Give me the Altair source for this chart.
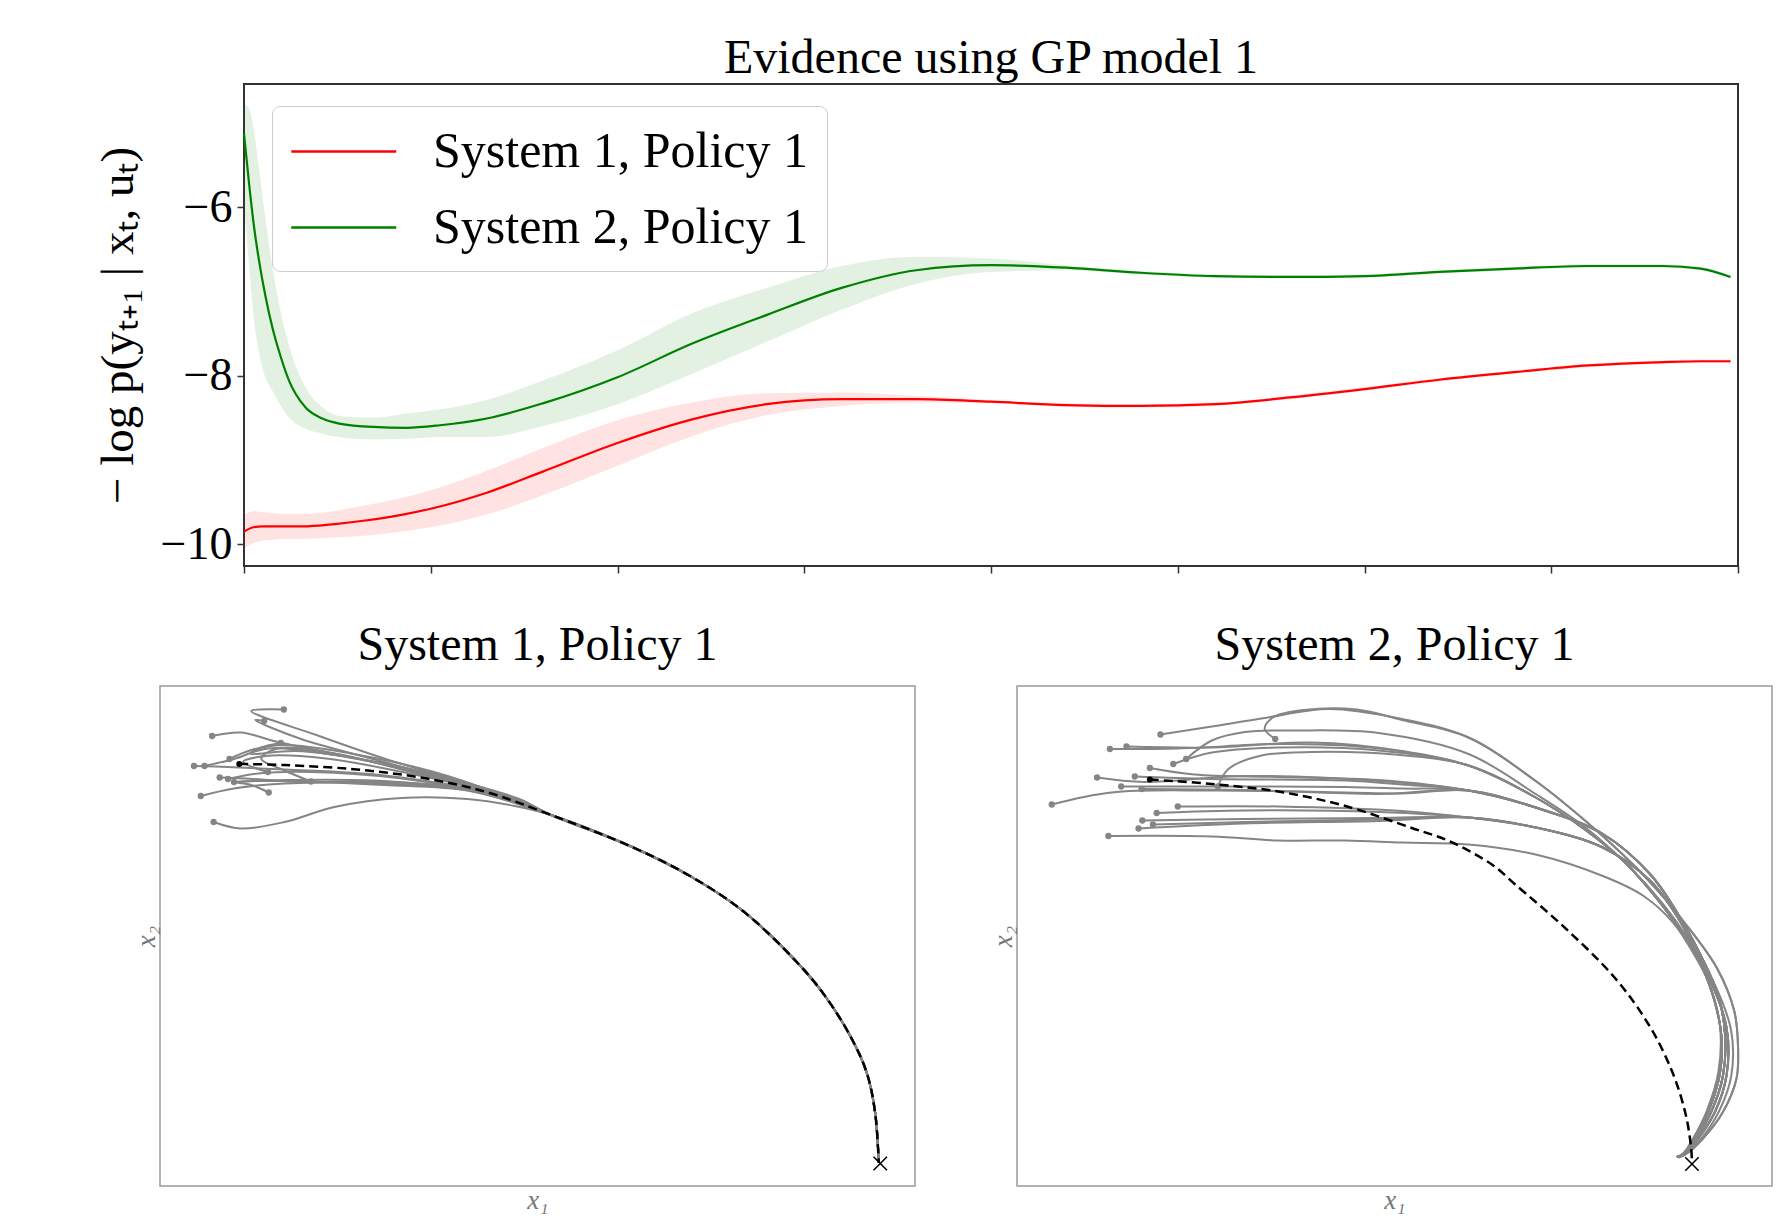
import altair as alt
import pandas as pd

# ---------------- top panel data ----------------
SERIES = ["System 1, Policy 1", "System 2, Policy 1"]
RED_T = [0, 0.05, 0.1, 0.15, 0.2, 0.3, 0.4, 0.5, 0.65, 0.85, 1.0, 1.3, 1.6, 2.0, 2.4,
         2.8, 3.2, 3.6, 4.0, 4.4, 4.8, 5.2, 5.6, 6.0, 6.4, 6.8, 7.2, 7.6, 7.8, 7.96]
RED_MEAN = [-9.85, -9.80, -9.79, -9.79, -9.79, -9.79, -9.78, -9.76, -9.72, -9.65,
            -9.58, -9.39, -9.14, -8.80, -8.52, -8.34, -8.28, -8.28, -8.31, -8.35,
            -8.36, -8.34, -8.26, -8.16, -8.05, -7.96, -7.88, -7.84, -7.83, -7.83]
RED_HALF = [0.20, 0.19, 0.17, 0.16, 0.15, 0.15, 0.15, 0.16, 0.18, 0.20,
            0.22, 0.26, 0.28, 0.27, 0.20, 0.13, 0.08, 0.04, 0.02, 0.02,
            0.02, 0.02, 0.02, 0.02, 0.02, 0.02, 0.02, 0.02, 0.02, 0.02]
GREEN_T = [0, 0.027, 0.054, 0.08, 0.116, 0.152, 0.197, 0.241, 0.33, 0.42, 0.51, 0.69,
           0.87, 1.05, 1.3, 1.6, 2.0, 2.4, 2.8, 3.2, 3.6, 4.0, 4.4, 4.8, 5.2, 5.6,
           6.0, 6.4, 6.8, 7.2, 7.6, 7.8, 7.96]
GREEN_MEAN = [-5.13, -5.72, -6.24, -6.63, -7.07, -7.43, -7.78, -8.06, -8.38, -8.51, -8.57,
              -8.61, -8.62, -8.59, -8.51, -8.33, -8.02, -7.62, -7.28, -6.96, -6.75, -6.69,
              -6.72, -6.78, -6.82, -6.83, -6.82, -6.77, -6.73, -6.70, -6.70, -6.73, -6.83]
GREEN_HI = [-4.78, -4.83, -5.10, -5.53, -6.16, -6.71, -7.25, -7.64, -8.14, -8.38, -8.48,
            -8.50, -8.45, -8.40, -8.29, -8.06, -7.70, -7.26, -6.96, -6.70, -6.59, -6.61,
            -6.69, -6.76, -6.80, -6.81, -6.80, -6.75, -6.71, -6.68, -6.68, -6.71, -6.81]
GREEN_LO = [-5.95, -6.70, -7.35, -7.72, -8.03, -8.18, -8.36, -8.50, -8.63, -8.69, -8.73,
            -8.76, -8.75, -8.73, -8.73, -8.60, -8.34, -7.98, -7.60, -7.22, -6.91, -6.77,
            -6.75, -6.80, -6.84, -6.85, -6.84, -6.79, -6.75, -6.72, -6.72, -6.75, -6.85]
X_TICKS = [0, 1, 2, 3, 4, 5, 6, 7, 8]
Y_TICKS = [-10, -8, -6]
Y_DOMAIN = [-10.26, -4.54]

# ---------------- bottom-left (System 1) data, % of frame ----------------
L_NOMINAL = [(10.5, 84.4), (16.5, 84.2), (25.3, 83.4), (34.1, 81.8), (43.0, 78.9),
             (51.8, 74.2), (62.4, 67.9), (70.2, 62.0), (77.3, 54.9), (84.4, 44.7),
             (87.9, 38.4), (91.5, 29.8), (93.6, 22.7), (94.7, 14.9), (95.2, 4.7)]
L_TAIL = [(51.8, 74.2), (62.4, 67.9), (70.2, 62.0), (77.3, 54.9), (84.4, 44.7),
          (87.9, 38.4), (91.5, 29.8), (93.6, 22.7), (94.7, 14.9), (95.2, 4.7)]
L_HEADS = [
    [(16.4, 95.3), (12.1, 95.0), (20.9, 90.1), (29.7, 85.5), (38.5, 81.5), (47.4, 77.5)],
    [(13.8, 93.0), (12.6, 93.2), (18.7, 89.4), (29.7, 84.8), (40.7, 80.2), (47.4, 77.4)],
    [(6.9, 90.0), (10.7, 90.7), (15.6, 88.8), (25.3, 85.8), (36.3, 81.8), (45.5, 78.0)],
    [(4.5, 84.0), (9.0, 83.8), (16.5, 83.3), (29.7, 82.1), (43.0, 78.8)],
    [(5.9, 84.0), (9.8, 85.4), (14.3, 87.5), (23.1, 86.2), (34.1, 82.8), (45.0, 78.3)],
    [(9.2, 85.4), (12.1, 87.2), (16.5, 88.2), (25.3, 86.5), (36.3, 82.8), (45.0, 78.4)],
    [(7.9, 81.7), (11.2, 81.5), (18.7, 80.8), (29.7, 80.8), (40.7, 79.5), (47.0, 76.8)],
    [(5.4, 78.0), (9.8, 79.5), (16.5, 80.5), (29.7, 80.5), (40.7, 79.2)],
    [(7.1, 72.8), (10.7, 71.5), (16.5, 72.8), (23.1, 75.8), (32.0, 77.6), (40.7, 77.4), (47.0, 76.0)],
    [(20.0, 80.9), (16.5, 83.1), (13.4, 85.5), (15.6, 87.5), (23.1, 86.5), (34.1, 82.5), (45.0, 78.2)],
    [(14.4, 78.7), (12.1, 80.2), (9.8, 80.8), (16.5, 81.0), (29.7, 80.2), (41.0, 79.0)],
    [(16.0, 88.6), (13.4, 87.7), (12.0, 86.5), (18.0, 87.0), (28.0, 85.0), (40.0, 80.8)],
    [(14.3, 82.8), (11.0, 84.8), (14.0, 86.0), (22.0, 85.5), (33.0, 82.5), (44.0, 78.6)],
    [(9.8, 80.8), (16.5, 81.2), (29.7, 81.0), (41.5, 79.0)],
    [(9.0, 81.4), (13.0, 82.5), (20.0, 82.8), (32.0, 81.5), (43.0, 78.5)],
]
L_END = (95.4, 4.5)

# ---------------- bottom-right (System 2) data, % of frame ----------------
R_NOMINAL = [(17.6, 81.3), (25.8, 80.4), (34.6, 78.9), (43.5, 76.0), (52.3, 71.6),
             (57.2, 69.0), (62.9, 64.3), (66.0, 60.3), (72.6, 51.6), (79.2, 41.6),
             (83.7, 32.2), (86.8, 22.8), (88.6, 14.1), (89.3, 7.4), (89.4, 4.7)]
R_TAIL_1 = [(59.8, 89.7), (68.7, 81.0), (75.3, 73.0), (81.6, 64.3), (85.5, 58.0), (88.3, 52.9),
            (92.7, 43.6), (95.0, 35.0), (95.5, 28.0), (95.3, 21.5), (93.5, 14.8), (90.8, 9.4),
            (88.6, 6.4), (87.6, 5.7)]
R_TAIL_2 = [(59.8, 86.4), (68.7, 78.4), (75.3, 71.7), (81.0, 64.0), (85.5, 56.5), (89.3, 48.5),
            (92.5, 40.0), (94.6, 31.0), (94.6, 22.0), (93.0, 15.0), (90.6, 9.4), (88.5, 6.3),
            (87.5, 5.8)]
R_TAIL_3 = [(59.8, 84.1), (68.7, 77.7), (75.3, 71.2), (80.8, 64.3), (85.0, 57.0), (88.8, 49.0),
            (92.0, 40.5), (94.0, 31.5), (94.0, 22.3), (92.5, 15.0), (90.2, 9.4), (88.4, 6.3),
            (87.5, 5.8)]
R_TAIL_4 = [(59.8, 79.1), (68.7, 75.7), (77.6, 70.4), (83.9, 62.3), (87.5, 54.5), (90.6, 46.0),
            (92.9, 38.0), (93.8, 30.0), (93.5, 22.0), (92.0, 15.0), (89.9, 9.4), (88.3, 6.3),
            (87.4, 5.8)]
R_TAIL_5 = [(59.8, 73.7), (68.7, 71.7), (77.6, 67.7), (83.9, 61.0), (87.6, 53.5), (90.3, 45.5),
            (92.3, 37.5), (93.3, 30.0), (93.1, 22.5), (91.6, 15.0), (89.7, 9.4), (88.2, 6.4),
            (87.4, 5.8)]
R_TAIL_6 = [(59.8, 68.3), (68.7, 66.3), (77.6, 62.0), (83.0, 58.0), (87.0, 52.5), (89.8, 46.0),
            (91.8, 40.0), (93.1, 32.2), (92.9, 22.8), (91.3, 14.8), (89.5, 9.4), (88.2, 6.4),
            (87.4, 5.8)]
R_HEADS = [
    ([(19.0, 90.3), (25.8, 91.9), (32.8, 93.6), (41.3, 95.4), (51.0, 93.4)], 1),
    ([(34.2, 89.4), (32.8, 91.5), (34.0, 93.8), (38.0, 95.2), (45.0, 95.3), (51.0, 93.2)], 1),
    ([(22.4, 85.4), (25.8, 89.1), (30.2, 90.8), (36.8, 91.1), (47.9, 90.6)], 2),
    ([(12.3, 87.4), (21.3, 87.5), (34.6, 88.4), (43.5, 88.1), (51.0, 86.9)], 3),
    ([(14.5, 87.9), (25.8, 87.7), (39.0, 88.7), (51.0, 87.0)], 3),
    ([(20.7, 84.4), (25.8, 86.7), (34.6, 87.7), (47.9, 87.1)], 3),
    ([(26.6, 79.9), (28.0, 83.4), (32.4, 86.1), (39.0, 86.8), (50.0, 86.3)], 3),
    ([(17.6, 83.6), (23.5, 82.3), (34.6, 81.8), (47.9, 81.2)], 4),
    ([(10.6, 81.7), (16.9, 80.8), (30.2, 82.0), (47.9, 81.0)], 4),
    ([(15.6, 81.9), (25.8, 81.4), (43.5, 81.1), (51.0, 80.3)], 4),
    ([(13.8, 79.9), (25.8, 79.9), (43.5, 79.8), (51.0, 79.5)], 4),
    ([(4.6, 76.3), (12.5, 78.7), (25.8, 79.1), (43.5, 78.7), (51.0, 78.5)], 4),
    ([(16.5, 79.4), (30.2, 79.2), (47.9, 78.4)], 4),
    ([(21.3, 75.9), (34.6, 75.9), (51.0, 75.0)], 5),
    ([(18.5, 74.6), (30.2, 75.1), (47.9, 74.8)], 5),
    ([(16.6, 73.1), (30.2, 73.4), (47.9, 73.6)], 5),
    ([(18.0, 72.3), (30.2, 72.8), (47.9, 73.3)], 5),
    ([(16.1, 71.5), (30.2, 72.5), (47.9, 73.0)], 5),
    ([(12.1, 70.0), (25.8, 69.9), (34.6, 69.1), (43.5, 69.1), (51.0, 68.7)], 6),
]
R_END = (89.4, 4.4)

FONT = "Liberation Serif"

# ---------------- top panel ----------------
rows = []
for t, m, h in zip(RED_T, RED_MEAN, RED_HALF):
    rows.append({"t": t, "mean": m, "lo": m - h, "hi": m + h, "series": SERIES[0]})
for t, m, lo, hi in zip(GREEN_T, GREEN_MEAN, GREEN_LO, GREEN_HI):
    rows.append({"t": t, "mean": m, "lo": lo, "hi": hi, "series": SERIES[1]})
evid = pd.DataFrame(rows)

cscale = alt.Scale(domain=SERIES, range=["#ff0000", "#008000"])
xs_top = alt.Scale(domain=[0, 8], nice=False, zero=False)
ys_top = alt.Scale(domain=Y_DOMAIN, nice=False, zero=False)

x_axis_top = alt.Axis(values=X_TICKS, labels=False, title=None, ticks=True, tickSize=7,
                      tickColor="#333333", tickWidth=1.5, domain=False, grid=False)
y_axis_top = alt.Axis(values=Y_TICKS, format="d", title="− log p(yₜ₊₁ | xₜ, uₜ)", tickSize=7,
                      tickColor="#333333", tickWidth=1.5, domain=False, grid=False,
                      labelFont=FONT, labelFontSize=46, labelColor="black", labelPadding=5,
                      titleFont=FONT, titleFontSize=47, titleFontWeight="normal",
                      titleColor="black", titlePadding=18)

band = alt.Chart(evid).mark_area(fillOpacity=0.11, interpolate="monotone").encode(
    x=alt.X("t:Q", scale=xs_top, axis=x_axis_top),
    y=alt.Y("lo:Q", scale=ys_top, axis=y_axis_top),
    y2="hi:Q",
    color=alt.Color("series:N", scale=cscale, legend=None),
)
line = alt.Chart(evid).mark_line(strokeWidth=2.2, interpolate="monotone").encode(
    x=alt.X("t:Q", scale=xs_top),
    y=alt.Y("mean:Q", scale=ys_top),
    color=alt.Color("series:N", scale=cscale, legend=alt.Legend(
        title=None, orient="none", legendX=28, legendY=22, symbolType="M -1 0 L 3 0",
        symbolSize=2756, symbolStrokeWidth=2.5, labelFont=FONT, labelFontSize=50,
        labelColor="black", labelOffset=88, labelLimit=1000, rowPadding=23, padding=18,
        strokeColor="#cccccc", fillColor="rgba(255,255,255,0.85)", cornerRadius=8,
        direction="vertical")),
)
top = alt.layer(band, line).resolve_scale(color="independent").properties(
    width=1494, height=482,
    title=alt.TitleParams("Evidence using GP model 1", font=FONT, fontSize=48,
                          fontWeight="normal", color="black", anchor="middle",
                          frame="group", offset=1),
    view=alt.ViewBackground(stroke="#333333", strokeWidth=2),
)

spacer = alt.Chart(pd.DataFrame({"v": [0]})).mark_point(opacity=0).encode(
    x=alt.X("v:Q", axis=None), y=alt.Y("v:Q", axis=None)
).properties(width=84, height=482, view=alt.ViewBackground(stroke="transparent"))


# ---------------- bottom panels ----------------
def traj_panel(heads_tails, nominal, end, title):
    grows, srows = [], []
    for k, (head, tail) in enumerate(heads_tails):
        pts = list(head) + list(tail)
        for i, (x, y) in enumerate(pts):
            grows.append({"traj": k, "i": i, "x": x, "y": y})
        srows.append({"x": head[0][0], "y": head[0][1]})
    gray_df = pd.DataFrame(grows)
    start_df = pd.DataFrame(srows)
    nom_df = pd.DataFrame([{"i": i, "x": x, "y": y} for i, (x, y) in enumerate(nominal)])
    nom_start = pd.DataFrame([{"x": nominal[0][0], "y": nominal[0][1]}])
    end_df = pd.DataFrame([{"x": end[0], "y": end[1]}])

    xs = alt.Scale(domain=[0, 100], nice=False, zero=False)
    ys = alt.Scale(domain=[0, 100], nice=False, zero=False)
    xax = alt.Axis(title="x₁", ticks=False, labels=False, domain=False, grid=False,
                   titleFont=FONT, titleFontStyle="italic", titleFontSize=27,
                   titleFontWeight="normal", titleColor="#777777", titlePadding=1)
    yax = alt.Axis(title="x₂", ticks=False, labels=False, domain=False, grid=False,
                   titleFont=FONT, titleFontStyle="italic", titleFontSize=27,
                   titleFontWeight="normal", titleColor="#777777", titlePadding=0)

    gray = alt.Chart(gray_df).mark_line(color="#858585", strokeWidth=2,
                                        interpolate="catmull-rom").encode(
        x=alt.X("x:Q", scale=xs, axis=xax), y=alt.Y("y:Q", scale=ys, axis=yax),
        detail="traj:N", order="i:Q")
    dots = alt.Chart(start_df).mark_circle(color="#858585", size=40, opacity=1).encode(
        x=alt.X("x:Q", scale=xs), y=alt.Y("y:Q", scale=ys))
    nom = alt.Chart(nom_df).mark_line(color="black", strokeWidth=2.5, strokeDash=[9, 5],
                                      interpolate="catmull-rom").encode(
        x=alt.X("x:Q", scale=xs), y=alt.Y("y:Q", scale=ys), order="i:Q")
    nomdot = alt.Chart(nom_start).mark_circle(color="black", size=36, opacity=1).encode(
        x=alt.X("x:Q", scale=xs), y=alt.Y("y:Q", scale=ys))
    endm = alt.Chart(end_df).mark_point(shape="M -1 -1 L 1 1 M -1 1 L 1 -1", filled=False,
                                        color="black", strokeWidth=1.6, size=180,
                                        opacity=1).encode(
        x=alt.X("x:Q", scale=xs), y=alt.Y("y:Q", scale=ys))
    return alt.layer(gray, dots, nom, nomdot, endm).properties(
        width=755, height=500,
        title=alt.TitleParams(title, font=FONT, fontSize=48, fontWeight="normal",
                              color="black", anchor="middle", frame="group", offset=16),
        view=alt.ViewBackground(stroke="#999999", strokeWidth=1.5),
    )


r_tails = {1: R_TAIL_1, 2: R_TAIL_2, 3: R_TAIL_3, 4: R_TAIL_4, 5: R_TAIL_5, 6: R_TAIL_6}
left = traj_panel([(h, L_TAIL) for h in L_HEADS], L_NOMINAL, L_END, "System 1, Policy 1")
right = traj_panel([(h, r_tails[k]) for h, k in R_HEADS], R_NOMINAL, R_END, "System 2, Policy 1")

row1 = alt.hconcat(spacer, top, spacing=0, bounds="flush")
row2 = alt.hconcat(left, right, spacing=102, bounds="flush")
chart = alt.vconcat(row1, row2, spacing=46).properties(
    padding={"left": 93, "top": 34, "right": 8, "bottom": 0},
    background="white",
)

chart.save("out.html", embed_options={"renderer": "svg", "actions": False})
